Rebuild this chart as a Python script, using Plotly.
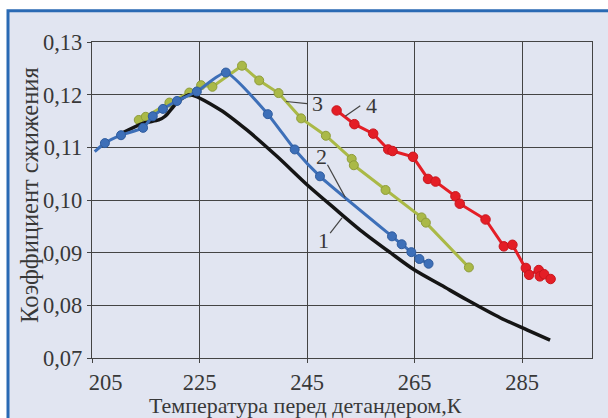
import plotly.graph_objects as go

# Temperature before the expander (K) and liquefaction coefficient
S1_T = [210.6, 214.6, 217.4, 218.6, 220.2, 221.4, 223.2, 228.9, 233.8, 239.4,
        245.0, 250.0, 255.0, 260.5, 265.0, 270.0, 274.8, 281.0, 286.0, 290.2]
S1_K = [0.1127, 0.1146, 0.1152, 0.1159, 0.1178, 0.1190, 0.1200, 0.1171, 0.1133, 0.1083,
        0.1029, 0.0985, 0.0942, 0.0900, 0.0867, 0.0838, 0.0810, 0.0776, 0.0753, 0.0734]

S2_START_T = 205.5
S2_START_K = 0.1092
S2_T = [207.4, 210.4, 214.5, 216.3, 218.2, 220.8, 224.5, 229.9, 237.7, 242.7,
        247.4, 260.8, 262.6, 264.4, 265.9, 267.6]
S2_K = [0.1108, 0.1123, 0.1137, 0.1159, 0.1173, 0.1188, 0.1206, 0.1242, 0.1163, 0.1096,
        0.1045, 0.0931, 0.0916, 0.0901, 0.0888, 0.0879]

S3_T = [213.7, 215.0, 219.4, 223.1, 225.3, 227.4, 232.9, 236.1, 239.7, 243.9,
        248.5, 253.3, 253.7, 259.6, 266.3, 267.1, 275.1]
S3_K = [0.1152, 0.1158, 0.1185, 0.1204, 0.1218, 0.1215, 0.1255, 0.1227, 0.1203, 0.1155,
        0.1122, 0.1078, 0.1066, 0.1019, 0.0967, 0.0957, 0.0872]

S4_T = [250.5, 253.8, 257.3, 260.1, 260.9, 264.7, 267.5, 268.9, 272.6, 273.4,
        278.2, 281.6, 283.2, 285.7, 286.3, 288.1, 288.3, 289.1, 290.3]
S4_K = [0.1170, 0.1144, 0.1126, 0.1096, 0.1093, 0.1082, 0.1040, 0.1035, 0.1007, 0.0993,
        0.0963, 0.0912, 0.0915, 0.0871, 0.0858, 0.0867, 0.0855, 0.0859, 0.0850]

X_TICKS = [205, 225, 245, 265, 285]
X_TICK_TEXT = ["\u2003\u2009205", "225", "245", "265", "285"]
Y_TICKS = [0.07, 0.08, 0.09, 0.10, 0.11, 0.12, 0.13]
Y_TICK_TEXT = ["0,07", "0,08", "0,09", "0,10", "0,11", "0,12", "0,13"]

# Curve labels: text position and leader line (from, to)
LABELS = ["1", "2", "3", "4"]
LABEL_T = [248.1, 247.6, 246.9, 256.9]
LABEL_K = [0.0924, 0.1083, 0.1183, 0.1179]
LEADER_T0 = [249.3, 248.8, 241.1, 252.1]
LEADER_K0 = [0.0937, 0.1067, 0.1187, 0.1159]
LEADER_T1 = [251.5, 252.1, 245.0, 254.9]
LEADER_K1 = [0.0966, 0.1005, 0.1183, 0.1179]

FONT = "Liberation Serif, DejaVu Serif, serif"
TXT = "#383838"
BG = "#e1e5f1"

BLUE = "#3d6fb8"
OLIVE = "#aab947"
RED = "#e41e26"
BLACK = "#151515"

fig = go.Figure()

# 3: olive
fig.add_trace(go.Scatter(
    x=S3_T, y=S3_K, mode="lines+markers",
    line=dict(color=OLIVE, width=3),
    marker=dict(size=9, color=OLIVE, line=dict(color="#8e9c3a", width=1)),
    hoverinfo="skip"))

# 1: black calculated curve
fig.add_trace(go.Scatter(
    x=S1_T, y=S1_K, mode="lines",
    line=dict(color=BLACK, width=3.5, shape="spline", smoothing=0.8),
    hoverinfo="skip"))

# 2: blue
fig.add_trace(go.Scatter(
    x=[S2_START_T] + S2_T, y=[S2_START_K] + S2_K, mode="lines",
    line=dict(color=BLUE, width=3, shape="spline", smoothing=0.5),
    hoverinfo="skip"))
fig.add_trace(go.Scatter(
    x=S2_T, y=S2_K, mode="markers",
    marker=dict(size=9, color=BLUE, line=dict(color="#2f5c9e", width=1)),
    hoverinfo="skip"))

# 4: red
fig.add_trace(go.Scatter(
    x=S4_T, y=S4_K, mode="lines+markers",
    line=dict(color=RED, width=3),
    marker=dict(size=9.5, color=RED, line=dict(color="#c8161d", width=1)),
    hoverinfo="skip"))

shapes = [
    # panel with blue frame
    dict(type="rect", xref="paper", yref="paper",
         x0=-0.168, x1=1.2, y0=-0.4, y1=1.099,
         fillcolor=BG, line=dict(color="#2a6ab4", width=3), layer="below"),
]
for t0, k0, t1, k1 in zip(LEADER_T0, LEADER_K0, LEADER_T1, LEADER_K1):
    shapes.append(dict(type="line", xref="x", yref="y", x0=t0, y0=k0, x1=t1, y1=k1,
                       line=dict(color="#444444", width=1.2)))

annotations = []
for txt, t, k in zip(LABELS, LABEL_T, LABEL_K):
    annotations.append(dict(x=t, y=k, xref="x", yref="y", text=txt, showarrow=False,
                            xanchor="center", yanchor="middle",
                            font=dict(family=FONT, size=22, color=TXT)))
annotations.append(dict(x=0.426, y=-0.149, xref="paper", yref="paper",
                        xanchor="center", yanchor="middle",
                        text="Температура перед детандером,К", showarrow=False,
                        font=dict(family=FONT, size=22, color=TXT)))
annotations.append(dict(x=-0.124, y=0.516, xref="paper", yref="paper",
                        xanchor="center", yanchor="middle",
                        text="Коэффициент сжижения", showarrow=False, textangle=-90,
                        font=dict(family=FONT, size=24.5, color=TXT)))

fig.update_layout(
    width=608, height=418,
    margin=dict(l=92, r=16, t=42, b=60),
    paper_bgcolor="white", plot_bgcolor=BG,
    showlegend=False,
    shapes=shapes, annotations=annotations,
    font=dict(family=FONT, size=22, color=TXT),
)
fig.update_xaxes(
    range=[205, 298], tickvals=X_TICKS, ticktext=X_TICK_TEXT,
    showgrid=True, gridcolor="#444444", gridwidth=1.4,
    showline=True, linecolor="#444444", linewidth=1.4, mirror=True,
    ticks="outside", ticklen=4, tickcolor="#444444",
    zeroline=False, tickfont=dict(family=FONT, size=22.5, color=TXT),
)
fig.update_yaxes(
    range=[0.07, 0.13], tickvals=Y_TICKS, ticktext=Y_TICK_TEXT,
    showgrid=True, gridcolor="#444444", gridwidth=1.4,
    showline=True, linecolor="#444444", linewidth=1.4, mirror=True,
    ticks="outside", ticklen=4, tickcolor="#444444",
    zeroline=False, tickfont=dict(family=FONT, size=22.5, color=TXT),
)

fig.write_html("out.html")
